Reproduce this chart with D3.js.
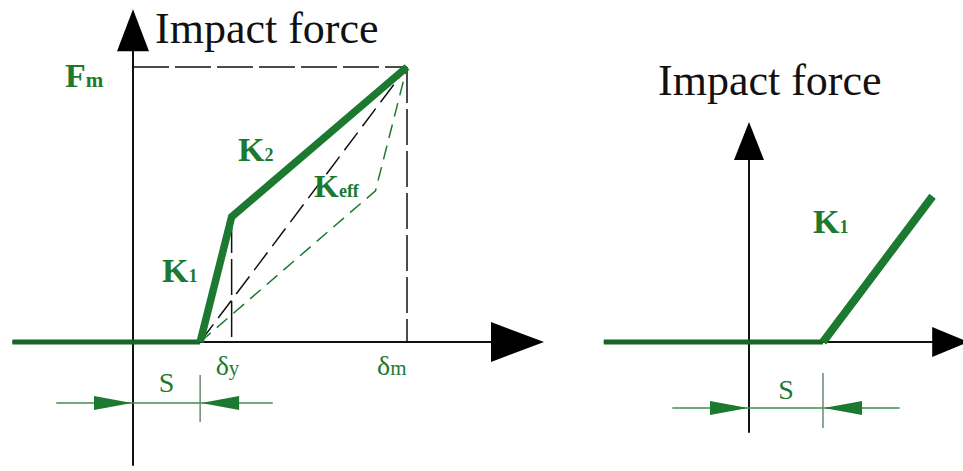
<!DOCTYPE html>
<html>
<head>
<meta charset="utf-8">
<script src="https://cdn.jsdelivr.net/npm/d3@7"></script>
<style>
    body { margin: 0; background: #fff; }
    text { font-family: "Liberation Serif", "DejaVu Serif", serif; }
    .green-label { fill: #1c7a30; }
</style>
</head>
<body>
<div id="chart-area"></div>
<script>

// Left panel: bilinear force-displacement curve (displacement d, force f)
var bilinearCurve = [
    { d: -4.4, f: 0 },
    { d: 2.45, f: 0 },
    { d: 3.6, f: 4.55 },
    { d: 10, f: 10 }
];
// Secant line from gap closure to maximum point
var secantLine = [
    { d: 2.45, f: 0 },
    { d: 10, f: 10 }
];
// Effective stiffness line
var keffLine = [
    { d: 2.45, f: 0 },
    { d: 8.85, f: 5.5 },
    { d: 10, f: 10 }
];
var gapLeft = 2.45;
var dispTicks = [
    { d: 3.6, sym: "δ", sub: "y" },
    { d: 10, sym: "δ", sub: "m" }
];

// Right panel: linear curve with gap
var linearCurve = [
    { d: -5.3, f: 0 },
    { d: 2.7, f: 0 },
    { d: 6.7, f: 5.3 }
];
var gapRight = 2.7;

var axisTitle = "Impact force";
var stiffLabels = ["K1", "K2", "Keff"];

ImpactVis = function(_parentElement) {
    this.parentElement = _parentElement;
    this.initVis();
};

ImpactVis.prototype.initVis = function() {
    var vis = this;

    vis.width = 963;
    vis.height = 471;
    vis.green = "#1c7a30";
    vis.darkGreen = "#176626";
    vis.dimGreen = "#3f8f4e";

    vis.svg = d3.select("#" + vis.parentElement).append("svg")
        .attr("width", vis.width)
        .attr("height", vis.height);

    // Scales (one pair per panel)
    vis.xL = d3.scaleLinear().domain([0, 10]).range([133, 407]);
    vis.yL = d3.scaleLinear().domain([0, 10]).range([342, 67]);
    vis.xR = d3.scaleLinear().domain([0, 10]).range([749, 1023]);
    vis.yR = d3.scaleLinear().domain([0, 10]).range([342, 67]);

    vis.drawLeft();
    vis.drawRight();
};

ImpactVis.prototype.line = function(x, y) {
    return d3.line()
        .x(function(d) { return x(d.d); })
        .y(function(d) { return y(d.f); });
};

ImpactVis.prototype.arrowHead = function(tip, dir, len, half, color) {
    var pts;
    if (dir === "right") {
        pts = [[tip[0], tip[1]], [tip[0] - len, tip[1] - half], [tip[0] - len, tip[1] + half]];
    } else if (dir === "left") {
        pts = [[tip[0], tip[1]], [tip[0] + len, tip[1] - half], [tip[0] + len, tip[1] + half]];
    } else {
        pts = [[tip[0], tip[1]], [tip[0] - half, tip[1] + len], [tip[0] + half, tip[1] + len]];
    }
    this.svg.append("path")
        .attr("d", "M" + pts.join("L") + "Z")
        .attr("fill", color);
};

ImpactVis.prototype.drawAxes = function(x, y, xMin, xMax, fMax, fMin, ax, ay) {
    var vis = this;
    // horizontal axis
    vis.svg.append("line")
        .attr("x1", x(xMin)).attr("x2", x(xMax) - 4)
        .attr("y1", y(0)).attr("y2", y(0))
        .attr("stroke", "#111").attr("stroke-width", 2);
    vis.arrowHead([x(xMax), y(0)], "right", ax[0], ax[1], "#000");
    // vertical axis
    vis.svg.append("line")
        .attr("x1", x(0)).attr("x2", x(0))
        .attr("y1", y(fMin)).attr("y2", y(fMax) + 4)
        .attr("stroke", "#111").attr("stroke-width", 2);
    vis.arrowHead([x(0), y(fMax)], "up", ay[0], ay[1], "#000");
};

ImpactVis.prototype.drawGapDim = function(x, gap, yLine, tickTop, tickBot, left, right, labelY) {
    var vis = this;
    vis.svg.append("line")
        .attr("x1", x(left)).attr("x2", x(right))
        .attr("y1", yLine).attr("y2", yLine)
        .attr("stroke", vis.dimGreen).attr("stroke-width", 1.5);
    vis.svg.append("line")
        .attr("x1", x(gap)).attr("x2", x(gap))
        .attr("y1", tickTop).attr("y2", tickBot)
        .attr("stroke", "#6a8a70").attr("stroke-width", 1.5);
    vis.arrowHead([x(0) - 1, yLine], "right", 38, 7, vis.green);
    vis.arrowHead([x(gap) + 1, yLine], "left", 38, 7, vis.green);
    vis.svg.append("text")
        .attr("class", "green-label")
        .attr("x", (x(0) + x(gap)) / 2)
        .attr("y", labelY)
        .attr("text-anchor", "middle")
        .attr("font-size", 28)
        .text("S");
};

ImpactVis.prototype.stiffText = function(px, py, main, sub, size, subSize) {
    var t = this.svg.append("text")
        .attr("class", "green-label")
        .attr("x", px).attr("y", py)
        .attr("font-weight", "bold")
        .attr("font-size", size);
    t.append("tspan").text(main);
    t.append("tspan").attr("font-size", subSize || size * 0.55).text(sub);
};

ImpactVis.prototype.drawLeft = function() {
    var vis = this;
    var x = vis.xL, y = vis.yL;

    vis.drawAxes(x, y, -4.4, 15.0, 12.1, -4.5, [53, 20], [42, 16]);

    // Dashed guide lines to maximum point
    vis.svg.append("line")
        .attr("x1", x(0)).attr("x2", x(10))
        .attr("y1", y(10)).attr("y2", y(10))
        .attr("stroke", "#111").attr("stroke-width", 1.5)
        .attr("stroke-dasharray", "36,6");
    vis.svg.append("line")
        .attr("x1", x(10)).attr("x2", x(10))
        .attr("y1", y(10)).attr("y2", y(0))
        .attr("stroke", "#111").attr("stroke-width", 1.5)
        .attr("stroke-dasharray", "36,6");
    vis.svg.append("line")
        .attr("x1", x(bilinearCurve[2].d)).attr("x2", x(bilinearCurve[2].d))
        .attr("y1", y(bilinearCurve[2].f)).attr("y2", y(0))
        .attr("stroke", "#111").attr("stroke-width", 1.5)
        .attr("stroke-dasharray", "36,6");

    // Secant (black dashed) and Keff (green dashed)
    vis.svg.append("path")
        .datum(secantLine)
        .attr("d", vis.line(x, y))
        .attr("fill", "none")
        .attr("stroke", "#111").attr("stroke-width", 1.5)
        .attr("stroke-dasharray", "22,8");
    vis.svg.append("path")
        .datum(keffLine)
        .attr("d", vis.line(x, y))
        .attr("fill", "none")
        .attr("stroke", vis.green).attr("stroke-width", 1.5)
        .attr("stroke-dasharray", "14,8");

    // Bilinear curve
    vis.svg.append("path")
        .datum(bilinearCurve.slice(0, 2))
        .attr("d", vis.line(x, y))
        .attr("fill", "none")
        .attr("stroke", vis.darkGreen).attr("stroke-width", 5);
    vis.svg.append("path")
        .datum(bilinearCurve.slice(1))
        .attr("d", vis.line(x, y))
        .attr("fill", "none")
        .attr("stroke", vis.green).attr("stroke-width", 7.5)
        .attr("stroke-linejoin", "miter");

    // Titles and labels
    vis.svg.append("text")
        .attr("x", 155).attr("y", 43)
        .attr("font-size", 44)
        .attr("fill", "#111")
        .text(axisTitle);

    vis.stiffText(65, 87, "F", "m", 34, 21);
    vis.stiffText(238, 161, stiffLabels[1].charAt(0), stiffLabels[1].slice(1), 34, 18);
    vis.stiffText(162, 282, stiffLabels[0].charAt(0), stiffLabels[0].slice(1), 34, 18);
    vis.stiffText(314, 197, stiffLabels[2].charAt(0), stiffLabels[2].slice(1), 32, 18);

    // Displacement tick labels
    var labelShift = [-16, -30];
    dispTicks.forEach(function(t, i) {
        var lbl = vis.svg.append("text")
            .attr("class", "green-label")
            .attr("x", x(t.d) + labelShift[i]).attr("y", 375)
            .attr("font-size", 28);
        lbl.append("tspan").text(t.sym);
        lbl.append("tspan").attr("font-size", 21).text(t.sub);
    });

    vis.drawGapDim(x, gapLeft, 403, 375, 422, -2.8, 5.1, 392);
};

ImpactVis.prototype.drawRight = function() {
    var vis = this;
    var x = vis.xR, y = vis.yR;

    vis.drawAxes(x, y, -5.3, 8.0, 8.0, -3.3, [36, 15], [38, 15]);

    vis.svg.append("path")
        .datum(linearCurve.slice(0, 2))
        .attr("d", vis.line(x, y))
        .attr("fill", "none")
        .attr("stroke", vis.darkGreen).attr("stroke-width", 5);
    vis.svg.append("path")
        .datum(linearCurve.slice(1))
        .attr("d", vis.line(x, y))
        .attr("fill", "none")
        .attr("stroke", vis.green).attr("stroke-width", 8);

    vis.svg.append("text")
        .attr("x", 658).attr("y", 95)
        .attr("font-size", 44)
        .attr("fill", "#111")
        .text(axisTitle);

    vis.stiffText(813, 233, stiffLabels[0].charAt(0), stiffLabels[0].slice(1), 34, 18);

    vis.drawGapDim(x, gapRight, 408, 373, 428, -2.8, 5.5, 399);
};

new ImpactVis("chart-area");

</script>
</body>
</html>
